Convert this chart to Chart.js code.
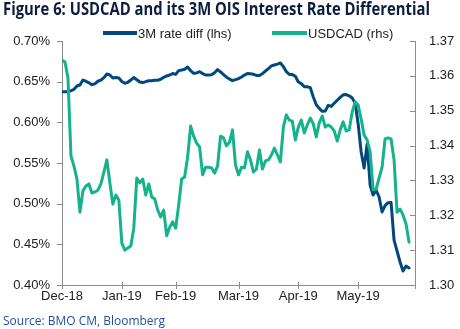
<!DOCTYPE html>
<html>
<head>
<meta charset="utf-8">
<script src="https://cdn.jsdelivr.net/npm/chart.js@4"></script>
<style>
  html, body { margin: 0; padding: 0; background: #fff; }
  #wrap { position: relative; width: 460px; height: 329px; overflow: hidden; }
  #c { position: absolute; left: 0; top: 0; }
  .txt { position: absolute; white-space: nowrap; transform-origin: 0 0; }
  #title { left: 3px; top: 0; font: bold 17px/18px "Liberation Sans Narrow", "Open Sans", sans-serif; color: #0c1d3f; }
  #source { left: 3px; top: 313px; font: 13px/15px "Liberation Sans Narrow", "Open Sans", sans-serif; color: #1f4f9f; }
  .leg { position: absolute; top: 26px; font: 13px/15px "Liberation Sans", Arial, sans-serif; color: #222; white-space: nowrap; }
  .sw { position: absolute; height: 3.5px; top: 31px; }
</style>
</head>
<body>
<div id="wrap">
  <canvas id="c" width="460" height="329"></canvas>
  <div id="title" class="txt">Figure 6: USDCAD and its 3M OIS Interest Rate Differential</div>
  <div class="sw" style="left:103px;width:34px;background:#00487d"></div>
  <div class="leg" style="left:138px">3M rate diff (lhs)</div>
  <div class="sw" style="left:272px;width:35px;background:#14b38b"></div>
  <div class="leg" style="left:308px">USDCAD (rhs)</div>
  <div id="source" class="txt">Source: BMO CM, Bloomberg</div>
</div>
<script>
"use strict";
// month ticks on a business-day index
var monthLabels = ['Dec-18', 'Jan-19', 'Feb-19', 'Mar-19', 'Apr-19', 'May-19', ''];
var monthIdx = [0, 20, 38, 59, 79, 99, 118];

// 3M OIS rate differential, % (lhs)
var rateDiff = [
    0.6377, 0.6377, 0.6377, 0.6388, 0.6406, 0.6447, 0.6459, 0.6520, 0.6505, 0.6486,
    0.6463, 0.6474, 0.6505, 0.6518, 0.6549, 0.6594, 0.6582, 0.6545, 0.6551, 0.6545,
    0.6502, 0.6480, 0.6492, 0.6520, 0.6551, 0.6524, 0.6496, 0.6489, 0.6501, 0.6512,
    0.6512, 0.6516, 0.6518, 0.6529, 0.6554, 0.6570, 0.6582, 0.6600, 0.6589, 0.6636,
    0.6643, 0.6652, 0.6680, 0.6635, 0.6603, 0.6607, 0.6623, 0.6599, 0.6582, 0.6582,
    0.6584, 0.6610, 0.6648, 0.6619, 0.6587, 0.6555, 0.6532, 0.6514, 0.6525, 0.6538,
    0.6557, 0.6581, 0.6600, 0.6598, 0.6591, 0.6576, 0.6576, 0.6598, 0.6631, 0.6661,
    0.6694, 0.6705, 0.6716, 0.6730, 0.6685, 0.6623, 0.6588, 0.6587, 0.6566, 0.6496,
    0.6476, 0.6438, 0.6438, 0.6427, 0.6311, 0.6217, 0.6172, 0.6135, 0.6139, 0.6209,
    0.6196, 0.6234, 0.6271, 0.6307, 0.6339, 0.6341, 0.6326, 0.6299, 0.6238, 0.5980,
    0.5635, 0.5439, 0.5734, 0.5230, 0.5107, 0.5168, 0.5082, 0.4898, 0.4976, 0.5012,
    0.5014, 0.4553, 0.4418, 0.4283, 0.4172, 0.4234, 0.4209
];

// USDCAD spot (rhs)
var usdcad = [
    1.3645, 1.3640, 1.3594, 1.3370, 1.3341, 1.3304, 1.3209, 1.3270, 1.3284, 1.3290,
    1.3264, 1.3267, 1.3272, 1.3290, 1.3324, 1.3359, 1.3293, 1.3232, 1.3258, 1.3244,
    1.3120, 1.3100, 1.3106, 1.3112, 1.3163, 1.3307, 1.3293, 1.3304, 1.3258, 1.3290,
    1.3252, 1.3247, 1.3215, 1.3195, 1.3215, 1.3141, 1.3166, 1.3181, 1.3163, 1.3229,
    1.3304, 1.3310, 1.3367, 1.3456, 1.3427, 1.3407, 1.3396, 1.3316, 1.3338, 1.3338,
    1.3336, 1.3321, 1.3341, 1.3427, 1.3422, 1.3399, 1.3410, 1.3445, 1.3344, 1.3316,
    1.3338, 1.3336, 1.3382, 1.3359, 1.3324, 1.3333, 1.3387, 1.3333, 1.3356, 1.3359,
    1.3373, 1.3393, 1.3373, 1.3353, 1.3453, 1.3488, 1.3473, 1.3470, 1.3416, 1.3453,
    1.3473, 1.3436, 1.3459, 1.3479, 1.3462, 1.3425, 1.3465, 1.3485, 1.3453, 1.3459,
    1.3453, 1.3442, 1.3413, 1.3445, 1.3468, 1.3442, 1.3445, 1.3496, 1.3525, 1.3516,
    1.3476, 1.3430, 1.3416, 1.3382, 1.3273, 1.3275, 1.3307, 1.3338, 1.3419, 1.3422,
    1.3419, 1.3359, 1.3209, 1.3218, 1.3201, 1.3175, 1.3123
];

var AXIS = '#8c8c8c', LABEL = '#222';
var tickFont = { family: '"Liberation Sans", Arial, sans-serif', size: 13 };

function fitWidth(id, w) {
    var el = document.getElementById(id);
    el.style.transform = 'scaleX(' + (w / el.getBoundingClientRect().width) + ')';
}
fitWidth('title', 427);
fitWidth('source', 162);

function pts(arr) {
    return arr.map(function (v, i) { return { x: i, y: v }; });
}

// short tick marks like the original (left out, right in, bottom across)
var tickMarks = {
    id: 'tickMarks',
    afterDraw: function (chart) {
        var ctx = chart.ctx, a = chart.chartArea, s = chart.scales;
        ctx.save();
        ctx.strokeStyle = AXIS;
        ctx.lineWidth = 1;
        ctx.beginPath();
        s.y.ticks.forEach(function (t) {
            var p = Math.round(s.y.getPixelForValue(t.value)) + 0.5;
            ctx.moveTo(a.left - 5, p); ctx.lineTo(a.left, p);
        });
        s.y1.ticks.forEach(function (t) {
            var p = Math.round(s.y1.getPixelForValue(t.value)) + 0.5;
            ctx.moveTo(a.right - 5, p); ctx.lineTo(a.right, p);
        });
        s.x.ticks.forEach(function (t) {
            var p = Math.round(s.x.getPixelForValue(t.value)) + 0.5;
            ctx.moveTo(p, a.bottom - 3); ctx.lineTo(p, a.bottom + 4);
        });
        ctx.stroke();
        ctx.restore();
    }
};

new Chart(document.getElementById('c'), {
    type: 'line',
    data: {
        datasets: [
            { label: '3M rate diff (lhs)', data: pts(rateDiff), yAxisID: 'y', borderColor: '#00487d', borderWidth: 3, order: 1 },
            { label: 'USDCAD (rhs)', data: pts(usdcad), yAxisID: 'y1', borderColor: '#14b38b', borderWidth: 3, order: 0 }
        ]
    },
    options: {
        responsive: false,
        animation: false,
        parsing: false,
        elements: { point: { radius: 0 }, line: { tension: 0, borderJoinStyle: 'round', borderCapStyle: 'round' } },
        layout: { padding: { top: 41, bottom: 24, left: 0, right: 0 } },
        plugins: { legend: { display: false }, tooltip: { enabled: false } },
        scales: {
            x: {
                type: 'linear', min: 0, max: 118,
                afterBuildTicks: function (sc) { sc.ticks = monthIdx.map(function (v) { return { value: v }; }); },
                afterFit: function (sc) { sc.height = 20; },
                grid: { display: false, drawTicks: false },
                border: { display: true, color: AXIS, width: 1 },
                ticks: {
                    autoSkip: false, maxRotation: 0, padding: 4, color: LABEL, font: tickFont,
                    callback: function (v, i) { return monthLabels[i]; }
                }
            },
            y: {
                position: 'left', min: 0.40, max: 0.70,
                afterFit: function (sc) { sc.width = 62; },
                grid: { display: false, drawTicks: false },
                border: { display: true, color: AXIS, width: 1 },
                ticks: {
                    stepSize: 0.05, padding: 12, color: LABEL, font: tickFont,
                    callback: function (v) { return v.toFixed(2) + '%'; }
                }
            },
            y1: {
                position: 'right', min: 1.30, max: 1.37,
                afterFit: function (sc) { sc.width = 45; },
                grid: { display: false, drawTicks: false },
                border: { display: true, color: AXIS, width: 1 },
                ticks: {
                    stepSize: 0.01, padding: 14, color: LABEL, font: tickFont,
                    callback: function (v) { return v.toFixed(2); }
                }
            }
        }
    },
    plugins: [tickMarks]
});
</script>
</body>
</html>
